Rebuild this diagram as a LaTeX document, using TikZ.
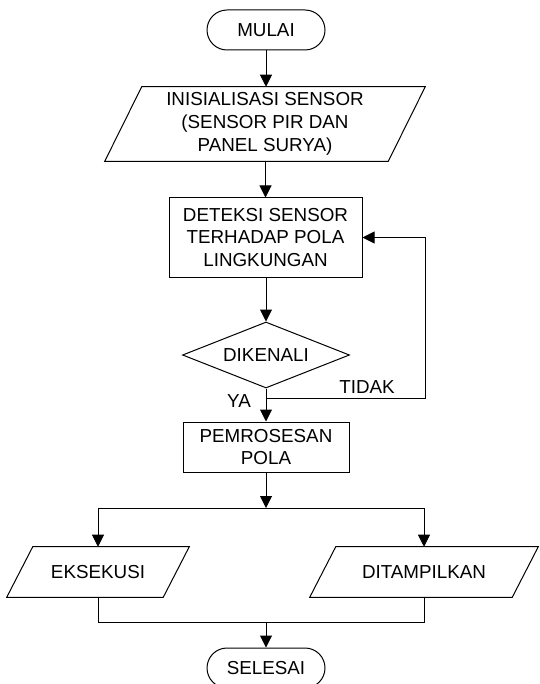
\documentclass[tikz,border=0pt]{standalone}
\usepackage{fontspec}
\setmainfont{Liberation Sans}
\usetikzlibrary{shapes.geometric,arrows.meta,calc}
\tikzset{
  base/.style={line width=0.75pt, draw=black},
  term/.style={base, rectangle, rounded corners=15pt, minimum width=88.5pt, minimum height=30pt, inner sep=0pt},
  proc/.style={base, rectangle, inner sep=0pt, align=center},
  iobox/.style={rectangle, inner sep=0pt, align=center},
  dec/.style={base, diamond, aspect=2.53, inner sep=0pt, minimum width=125.25pt, minimum height=49.5pt},
  flow/.style={line width=0.75pt, -{Triangle[length=9pt,width=9pt]}},
  plain/.style={line width=0.75pt},
  lbl/.style={inner sep=0pt}
}
\newcommand\drawpara[2]{\draw[plain] ($(#1.north west)+(#2,0)$) -- (#1.north east) -- ($(#1.south east)-(#2,0)$) -- (#1.south west) -- cycle;}
\begin{document}
\begin{tikzpicture}[x=0.75pt,y=-0.75pt,font=\fontsize{14.1pt}{17pt}\selectfont]
\useasboundingbox (0,0) rectangle (539,684);
% nodes
\node[term] (start) at (266,30) {MULAI};
\node[iobox, minimum width=240pt, minimum height=55.5pt] (p1) at (265,124) {INISIALISASI SENSOR\\(SENSOR PIR DAN\\PANEL SURYA)};
\drawpara{p1}{37}
\node[proc, minimum width=144.75pt, minimum height=59.25pt] (r1) at (265.5,237.5) {DETEKSI SENSOR\\TERHADAP POLA\\LINGKUNGAN};
\node[dec] (d1) at (266,355) {DIKENALI};
\node[proc, minimum width=124.5pt, minimum height=37.5pt] (r2) at (266,447) {PEMROSESAN\\POLA};
\node[iobox, minimum width=136.5pt, minimum height=37.5pt] (p2) at (98,572) {EKSEKUSI};
\drawpara{p2}{26}
\node[iobox, minimum width=171pt, minimum height=37.5pt] (p3) at (424,572) {DITAMPILKAN};
\drawpara{p3}{26}
\node[term] (end) at (266,668) {SELESAI};
% labels
\node[lbl] (ya) at (239,401) {YA};
\node[lbl] (tidak) at (367,387) {TIDAK};
% junctions
\coordinate (j1) at (266,398);
\coordinate (t1) at (425,398);
\coordinate (j2) at (266,508);
\coordinate (j3) at (266,622);
% connectors
\draw[flow] (start) -- (start|-p1.north);
\draw[flow] (p1.south-|r1) -- (r1.north);
\draw[flow] (r1.south-|d1) -- (d1.north);
\draw[flow] (d1.south) -- (r2.north);
\draw[flow] (j1) -- (t1) |- (r1.east);
\draw[flow] (r2.south) -- (j2);
\draw[flow] (j2) -| (p2.north);
\draw[flow] (j2) -| (p3.north);
\draw[plain] (p2.south) |- (j3);
\draw[plain] (p3.south) |- (j3);
\draw[flow] (j3) -- (end.north);
\end{tikzpicture}
\end{document}
